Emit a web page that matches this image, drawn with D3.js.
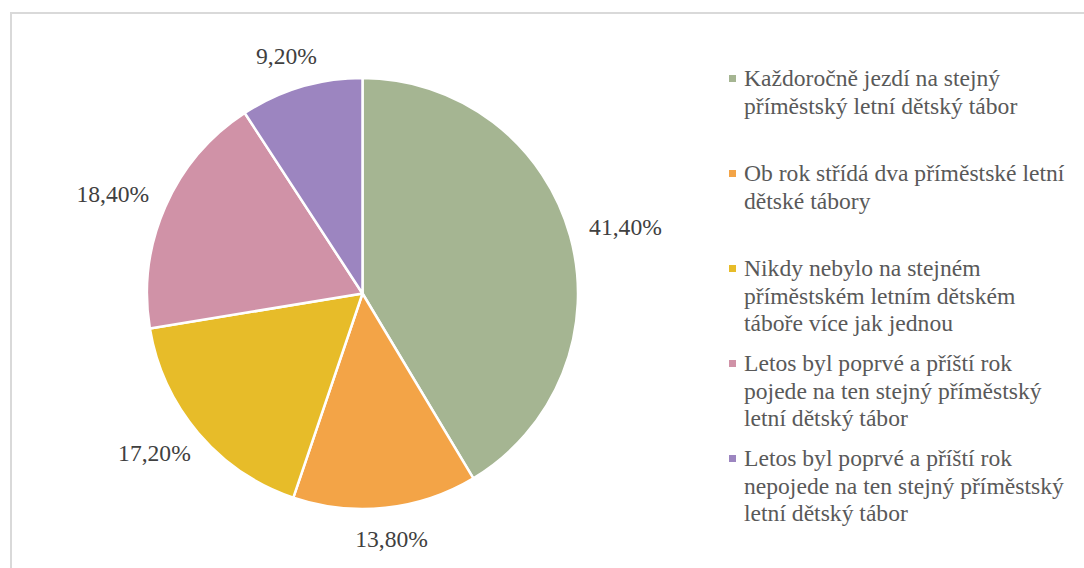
<!DOCTYPE html>
<html>
<head>
<meta charset="utf-8">
<script src="https://cdn.jsdelivr.net/npm/d3@7"></script>
</head>
<body style="margin:0">
<svg id="chart" width="1084" height="568"></svg>
<script>
// data
const categories = [
    ["Každoročně jezdí na stejný", "příměstský letní dětský tábor"],
    ["Ob rok střídá dva příměstské letní", "dětské tábory"],
    ["Nikdy nebylo na stejném", "příměstském letním dětském", "táboře více jak jednou"],
    ["Letos byl poprvé a příští rok", "pojede na ten stejný příměstský", "letní dětský tábor"],
    ["Letos byl poprvé a příští rok", "nepojede na ten stejný příměstský", "letní dětský tábor"]
];
const values = [41.4, 13.8, 17.2, 18.4, 9.2];
const colours = ["#a5b592", "#f3a447", "#e7bc29", "#d092a7", "#9c85c0"];

const width = 1084;
const height = 568;
const cx = 362.5, cy = 293.5, radius = 215.5;
const FONT = "Times New Roman";
const FONTSIZE = 23.6;

const svg = d3.select("#chart");

// chart border (runs past the window on right / bottom)
svg.append("path")
    .attr("d", `M11,${height + 5}V13H${width + 5}`)
    .attr("fill", "none")
    .attr("stroke", "#d9d9d9")
    .attr("stroke-width", 2);

const pie = d3.pie().sort(null).value(d => d);
const arcs = pie(values);
const arc = d3.arc().innerRadius(0).outerRadius(radius);

const pieG = svg.append("g").attr("transform", `translate(${cx},${cy})`);

pieG.selectAll("path.slice")
    .data(arcs)
    .enter()
    .append("path")
        .attr("class", "slice")
        .attr("d", arc)
        .attr("fill", (d,i) => colours[i])
        .attr("stroke", "#fff")
        .attr("stroke-width", 2.5)
        .attr("stroke-linejoin", "round");

//labels outside end
const fmt = v => v.toFixed(2).replace(".", ",") + "%";
const labelOffset = 21;

pieG.selectAll("text.label")
    .data(arcs)
    .enter()
    .append("text")
        .attr("class", "label")
        .attr("text-anchor", "middle")
        .attr("font-family", FONT)
        .attr("font-size", FONTSIZE)
        .attr("fill", "#404040")
        .text(d => fmt(d.value))
        .each(function(d){
            const a = (d.startAngle + d.endAngle) / 2;
            const s = Math.sin(a), c = -Math.cos(a);
            const w = this.getComputedTextLength();
            const h = FONTSIZE * 0.9;
            const r = radius + labelOffset;
            const x = s * r + s * w / 2;
            const y = c * r + c * h / 2 + FONTSIZE * 0.33;
            d3.select(this).attr("x", x).attr("y", y);
        });

// legend
const legendX = 729;
const legendTop = 86;
const itemStep = 95;
const lineHeight = 27.5;

const item = svg.selectAll("g.item")
    .data(categories)
    .enter()
    .append("g")
        .attr("class", "item")
        .attr("transform", (d,i) => `translate(${legendX},${legendTop + i * itemStep})`);

item.append("rect")
    .attr("x", 0).attr("y", -11)
    .attr("width", 7).attr("height", 7)
    .attr("fill", (d,i) => colours[i]);

item.selectAll("text")
    .data(d => d)
    .enter()
    .append("text")
        .attr("x", 15)
        .attr("y", (d,i) => i * lineHeight)
        .attr("font-family", FONT)
        .attr("font-size", FONTSIZE)
        .attr("fill", "#595959")
        .text(d => d);
</script>
</body>
</html>
